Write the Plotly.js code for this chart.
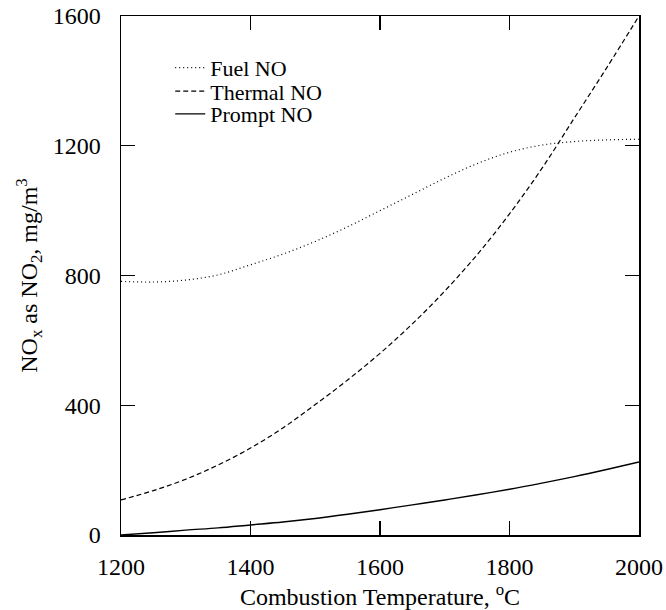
<!DOCTYPE html>
<html>
<head>
<meta charset="utf-8">
<script src="https://cdn.plot.ly/plotly-3.0.1.min.js"></script>
<style>html,body{margin:0;padding:0;background:#fff;}#chart{width:666px;height:610px;}</style>
</head>
<body>
<div id="chart"></div>
<script>
const temperature = [1200, 1250, 1300, 1350, 1400, 1450, 1500, 1550, 1600, 1650, 1700, 1750, 1800, 1850, 1900, 1950, 2000];
const fuelNO     = [782, 780, 786, 802, 833, 866, 905, 950, 1000, 1050, 1100, 1145, 1180, 1202, 1213, 1218, 1220];
const thermalNO  = [108, 137, 172, 216, 268, 330, 402, 478, 560, 651, 752, 864, 990, 1130, 1285, 1440, 1600];
const promptNO   = [0, 7, 15, 22, 31, 40, 51, 64, 78, 93, 108, 124, 141, 160, 180, 202, 225];
const seriesNames = ["Fuel NO", "Thermal NO", "Prompt NO"];

const fam = "Liberation Serif, Times New Roman, serif";
const font = {family: fam, size: 24, color: "#000"};
const legFont = {family: fam, size: 22, color: "#000"};
const data = [
  {x: temperature, y: fuelNO, name: seriesNames[0], legend: "legend", mode: "lines", line: {color: "#000", width: 1.2, dash: "1px,3px", shape: "spline"}},
  {x: temperature, y: thermalNO, name: seriesNames[1], legend: "legend2", mode: "lines", line: {color: "#000", width: 1.2, dash: "5px,3px", shape: "spline"}},
  {x: temperature, y: promptNO, name: seriesNames[2], legend: "legend3", mode: "lines", line: {color: "#000", width: 1.4, shape: "spline"}}
];
const axisCommon = {
  showgrid: false, zeroline: false, showline: true, linecolor: "#000", linewidth: 1.5,
  mirror: "ticks", ticks: "inside", ticklen: 14, tickwidth: 1.2, tickcolor: "#000",
  tickfont: font
};
function leg(yv) {
  return {x: 0.095, y: yv, xanchor: "left", yanchor: "middle", bgcolor: "rgba(0,0,0,0)", font: legFont, itemwidth: 30};
}
const layout = {
  width: 666, height: 610,
  margin: {l: 121, r: 27, t: 16, b: 75},
  paper_bgcolor: "#fff", plot_bgcolor: "#fff",
  font: font,
  showlegend: true,
  legend: leg(0.900),
  legend2: leg(0.855),
  legend3: leg(0.811),
  xaxis: Object.assign({}, axisCommon, {
    range: [1200, 2000], tickvals: [1200, 1400, 1600, 1800, 2000],
    ticklabelstandoff: 10,
    title: {text: "Combustion Temperature, <sup>o</sup>C", font: font, standoff: 4}
  }),
  yaxis: Object.assign({}, axisCommon, {
    range: [0, 1600], tickvals: [0, 400, 800, 1200, 1600],
    ticklabelstandoff: 14,
    title: {text: "NO<sub>x</sub> as NO<sub>2</sub>, mg/m<sup>3</sup>", font: font, standoff: 8}
  })
};
Plotly.newPlot("chart", data, layout, {displayModeBar: false, staticPlot: true});
</script>
</body>
</html>
